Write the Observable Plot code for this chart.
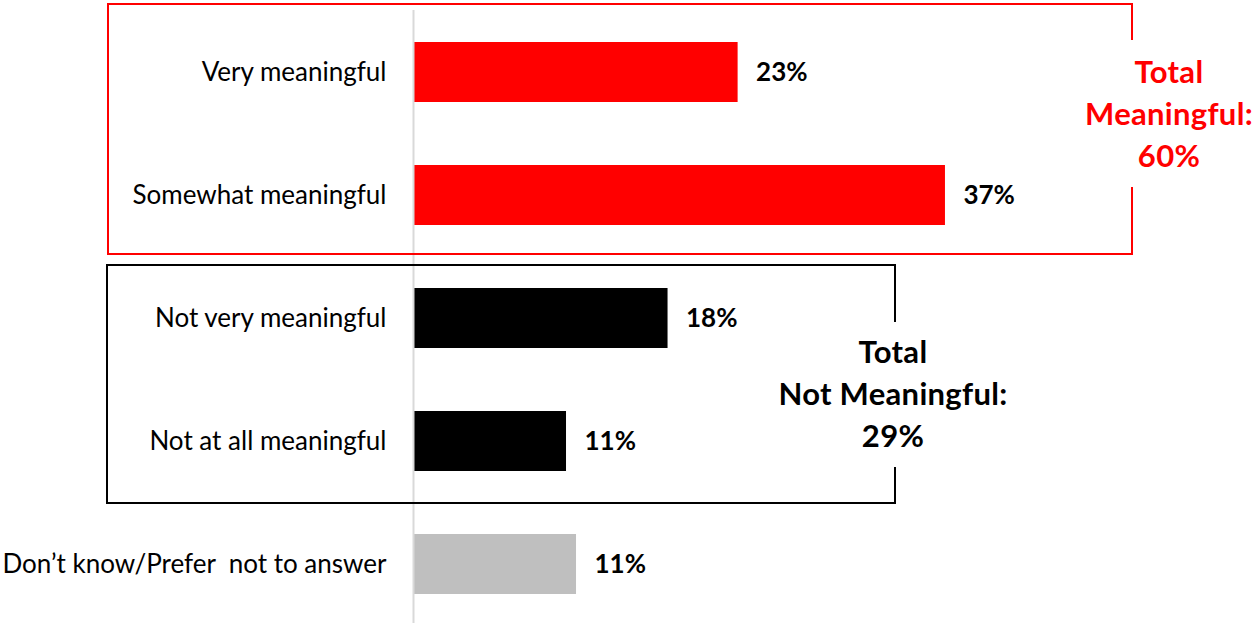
<!DOCTYPE html>
<html><head><meta charset="utf-8">
<script src="https://cdn.jsdelivr.net/npm/d3@7"></script>
<script src="https://cdn.jsdelivr.net/npm/@observablehq/plot@0.6"></script>
<style>
html,body{margin:0;padding:0;background:#fff;overflow:hidden}
svg text{white-space:pre}
</style>
</head><body><div id="chart"></div>
<script>
// ---- data ----
const categories = ["Very meaningful", "Somewhat meaningful", "Not very meaningful", "Not at all meaningful", "Don’t know/Prefer  not to answer"];
const values = [22.7, 37.2, 17.8, 10.7, 11.4];
const valueLabels = ["23%", "37%", "18%", "11%", "11%"];
const groups = ["meaningful", "meaningful", "not", "not", "dk"];
const groupNames = ["meaningful", "not", "dk"];
const groupColors = ["#FF0000", "#000000", "#BFBFBF"];
const totalLines = [["Total", "Meaningful:", "60%"], ["Total", "Not Meaningful:", "29%"]];
const totalColors = ["#FF0000", "#000000"];

const data = categories.map((c, i) => ({category: c, value: values[i], label: valueLabels[i], group: groups[i]}));

const W = 1260, H = 623;
const FONT = "Lato, 'Open Sans', sans-serif";

const plot = Plot.plot({
  width: W, height: H,
  marginTop: 10, marginBottom: 0, marginLeft: 413, marginRight: 0,
  x: {domain: [0, 60], range: [413, 413 + 60 * 14.3], axis: null},
  y: {domain: categories, range: [10, 626], paddingInner: 0.51, paddingOuter: 0.255, axis: null},
  color: {domain: groupNames, range: groupColors},
  style: {fontFamily: FONT, background: "#fff", overflow: "visible"},
  marks: [
    Plot.barX(data, {x: "value", y: "category", fill: "group"}),
    Plot.ruleX([0], {stroke: "#D9D9D9", strokeWidth: 2}),
    Plot.text(data, {x: 0, y: "category", text: "category", textAnchor: "end", dx: -27, fontSize: 26, fill: "#000"}),
    Plot.text(data, {x: "value", y: "category", text: "label", textAnchor: "start", dx: 18, fontSize: 26, fontWeight: "bold", fill: "#000"})
  ]
});
document.getElementById("chart").appendChild(plot);

// ---- annotation boxes and totals (layout in pixels) ----
const boxes = [
  {x0: 108, x1: 1132, y0: 4, y1: 254, gap0: 40, gap1: 187, tx: 1169, ty: 83},
  {x0: 107, x1: 895, y0: 265, y1: 503, gap0: 322, gap1: 467, tx: 893, ty: 363}
];
const svg = d3.select(plot);
const g = svg.append("g");
boxes.forEach((b, i) => {
  g.append("path")
    .attr("d", `M${b.x1},${b.gap0}L${b.x1},${b.y0}L${b.x0},${b.y0}L${b.x0},${b.y1}L${b.x1},${b.y1}L${b.x1},${b.gap1}`)
    .attr("fill", "none").attr("stroke", totalColors[i]).attr("stroke-width", 2);
  const t = g.append("text")
    .attr("text-anchor", "middle").attr("font-family", FONT)
    .attr("font-size", 31).attr("letter-spacing", 0.3).attr("font-weight", "bold").attr("fill", totalColors[i]);
  totalLines[i].forEach((line, j) => {
    t.append("tspan").attr("x", b.tx).attr("y", b.ty + j * 42).text(line);
  });
});
</script>
</body></html>
